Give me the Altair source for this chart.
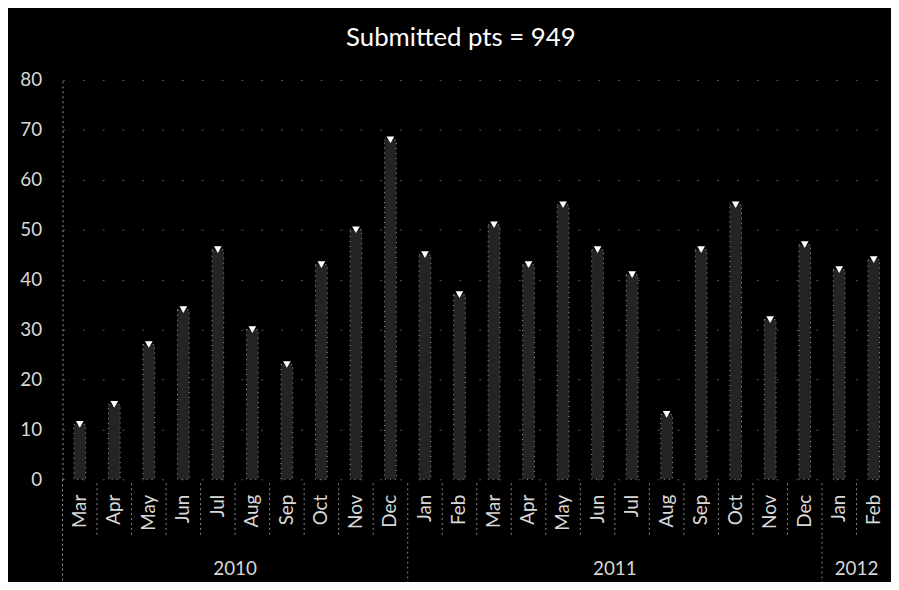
import altair as alt
import pandas as pd

months = ["Mar", "Apr", "May", "Jun", "Jul", "Aug", "Sep", "Oct", "Nov", "Dec",
          "Jan", "Feb", "Mar", "Apr", "May", "Jun", "Jul", "Aug", "Sep", "Oct", "Nov", "Dec",
          "Jan", "Feb"]
years = [2010] * 10 + [2011] * 12 + [2012] * 2
pts = [11, 15, 27, 34, 46, 30, 23, 43, 50, 68,
       45, 37, 51, 43, 55, 46, 41, 13, 46, 55, 32, 47,
       42, 44]
title_text = "Submitted pts = 949"
y_ticks = [0, 10, 20, 30, 40, 50, 60, 70, 80]

keys = [f"{m} {y} {i}" for i, (m, y) in enumerate(zip(months, years))]
df = pd.DataFrame({"key": keys, "month": months, "year": years, "pts": pts})

# year groups
yr_df = pd.DataFrame({"idx": list(range(len(months))), "year": years})
yr_centers = yr_df.groupby("year")["idx"].agg(["min", "max"]).reset_index()
yr_centers["center"] = (yr_centers["min"] + yr_centers["max"] + 1) / 2
yr_centers["year_label"] = yr_centers["year"].astype(str)
year_bounds = pd.DataFrame({"b": sorted(set(yr_centers["min"].tolist()) - {0})})
left_bound = pd.DataFrame({"b": [0]})
month_bounds = pd.DataFrame({"b": list(range(1, len(months)))})

W, H = 836, 403
FONT = "Lato"
N = len(months)

xband = alt.X("key:N", sort=keys, scale=alt.Scale(paddingInner=0.66, paddingOuter=0.33),
              axis=alt.Axis(title=None, labelExpr="split(datum.label, ' ')[0]",
                            labelAngle=270, labelPadding=15, ticks=False, domain=False,
                            labelFont=FONT, labelFontSize=19, labelColor="#d8d8d8"))
yq = alt.Y("pts:Q", scale=alt.Scale(domain=[0, 80]),
           axis=alt.Axis(title=None, values=y_ticks, ticks=False, labelPadding=21,
                         labelFont=FONT, labelFontSize=19, labelColor="#d8d8d8",
                         domain=True, domainColor="#999999", domainDash=[2, 3],
                         grid=True, gridColor="#6a6a6a", gridDash=[2, 18], gridOpacity=0.8))

bars = alt.Chart(df).mark_bar(fill="#242424", stroke="#9a9a9a", strokeDash=[1, 4],
                              strokeWidth=1).encode(x=xband, y=yq)
marks = alt.Chart(df).mark_point(shape="triangle-down", filled=True, color="white",
                                 size=60, opacity=1).encode(x=alt.X("key:N", sort=keys), y="pts:Q")

xq = alt.X("b:Q", scale=alt.Scale(domain=[0, N]), axis=None)
msep = alt.Chart(month_bounds).mark_rule(color="#888888", strokeDash=[2, 3]).encode(
    x=xq, y=alt.value(H + 4), y2=alt.value(H + 58))
ysep = alt.Chart(year_bounds).mark_rule(color="#888888", strokeDash=[2, 3]).encode(
    x=xq, y=alt.value(H + 58), y2=alt.value(H + 104))
lsep = alt.Chart(left_bound).mark_rule(color="#999999", strokeDash=[2, 3]).encode(
    x=xq, y=alt.value(H), y2=alt.value(H + 104))
ylab = alt.Chart(yr_centers).mark_text(color="#d8d8d8", font=FONT, fontSize=19,
                                       baseline="middle").encode(
    x=alt.X("center:Q", scale=alt.Scale(domain=[0, N]), axis=None),
    y=alt.value(H + 91), text="year_label:N")

top = alt.layer(bars, marks)
chart = alt.layer(top, msep, ysep, lsep, ylab).resolve_scale(x="independent").properties(
    width=W, height=H,
    autosize=alt.AutoSizeParams(type="none"),
    padding={"left": 55, "top": 70, "right": 0, "bottom": 101},
    background="black",
    title=alt.TitleParams(title_text, color="white", font=FONT, fontSize=26,
                          fontWeight="normal", anchor="middle", dx=-16, offset=20),
).configure_view(stroke=None)

chart.save("out.html", embed_options={"renderer": "svg", "actions": False})
